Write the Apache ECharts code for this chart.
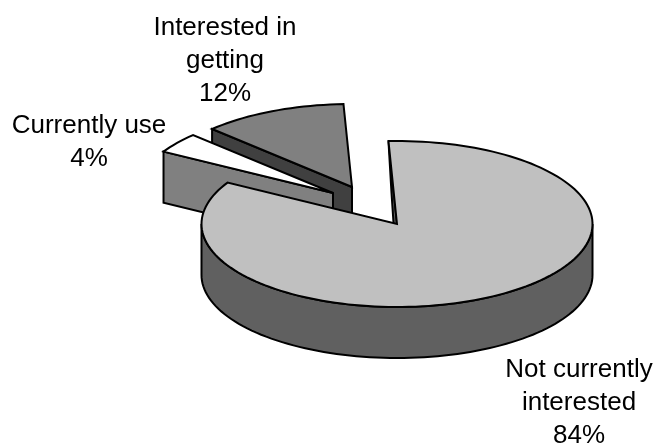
<!DOCTYPE html>
<html>
<head>
<meta charset="utf-8">
<style>html,body{margin:0;padding:0;background:#fff}#chart{width:656px;height:445px}</style>
<script src="https://cdn.jsdelivr.net/npm/echarts@6/dist/echarts.min.js"></script>
</head>
<body>
<div id="chart"></div>
<script>
// Share of respondents per answer, clockwise from the top of the pie
const categories = ['Not currently interested', 'Currently use', 'Interested in getting'];
const shares = [84, 4, 12];
const labelLines = [['Not currently', 'interested'], ['Currently use'], ['Interested in', 'getting']];

// Tilted-disc geometry
const CENTER = [397, 224];
const RX = 195.5, RY = 83, DEPTH = 51;
const START_ANGLE = -2.5;
const EXPLODE = [[0, 0], [-64, -31], [-45, -37]];
const TOP_COLORS = ['#c0c0c0', '#ffffff', '#808080'];
const SIDE_COLORS = ['#606060', '#808080', '#404040'];
const LABEL_POS = [[579, 403], [89, 142], [225, 61]];
const PAINT_ORDER = [3, 2, 1];
// Horizontal narrowing of the lower edge of each start-angle cut, for the foreshortened wall
const CUT_TAPER = [0.65, 1, 1];

const total = shares.reduce((a, b) => a + b, 0);

function renderSlice(params, api) {
  const i = params.dataIndex;
  let before = 0;
  for (let k = 0; k < i; k++) before += shares[k];
  const a0 = START_ANGLE + before / total * 360;
  const a1 = a0 + api.value(0) / total * 360;
  const ox = CENTER[0] + EXPLODE[i][0], oy = CENTER[1] + EXPLODE[i][1];
  const rim = (deg, drop) => {
    const r = deg * Math.PI / 180;
    return [ox + RX * Math.sin(r), oy - RY * Math.cos(r) + drop];
  };
  const arc = (from, to, drop) => {
    const pts = [], n = Math.max(2, Math.ceil(Math.abs(to - from) / 2));
    for (let s = 0; s <= n; s++) pts.push(rim(from + (to - from) * s / n, drop));
    return pts;
  };
  const z = PAINT_ORDER[i] * 10;
  const poly = (points, fill, level) => ({
    type: 'polygon',
    z2: z + level,
    shape: { points },
    style: { fill, stroke: '#000', lineWidth: 2, lineJoin: 'miter' },
    silent: true
  });
  const side = SIDE_COLORS[i];
  const children = [];

  // The radial cut along the start angle faces the viewer on the left half of the disc
  if (Math.sin(a0 * Math.PI / 180) < 0) {
    const low = rim(a0, DEPTH);
    low[0] = ox + (low[0] - ox) * CUT_TAPER[i];
    children.push(poly([[ox, oy], rim(a0, 0), low, [ox, oy + DEPTH]], side, 0));
  }
  // Outer wall is only seen along the front half
  const r0 = Math.max(a0, 90), r1 = Math.min(a1, 270);
  if (r1 > r0) {
    children.push(poly(arc(r0, r1, 0).concat(arc(r1, r0, DEPTH)), side, 1));
  }
  children.push(poly([[ox, oy]].concat(arc(a0, a1, 0)), TOP_COLORS[i], 2));
  children.push({
    type: 'text',
    z2: 100,
    silent: true,
    style: {
      text: labelLines[i].concat(api.value(0) + '%').join('\n'),
      x: LABEL_POS[i][0],
      y: LABEL_POS[i][1],
      align: 'center',
      verticalAlign: 'middle',
      font: '26px "Liberation Sans", Arial, sans-serif',
      lineHeight: 33,
      fill: '#000'
    }
  });
  return { type: 'group', children };
}

const chart = echarts.init(document.getElementById('chart'), null, { renderer: 'canvas' });
chart.setOption({
  animation: false,
  backgroundColor: '#ffffff',
  series: [{
    type: 'custom',
    coordinateSystem: 'none',
    renderItem: renderSlice,
    data: shares.map((v, i) => ({ name: categories[i], value: [v] }))
  }]
});
</script>
</body>
</html>
